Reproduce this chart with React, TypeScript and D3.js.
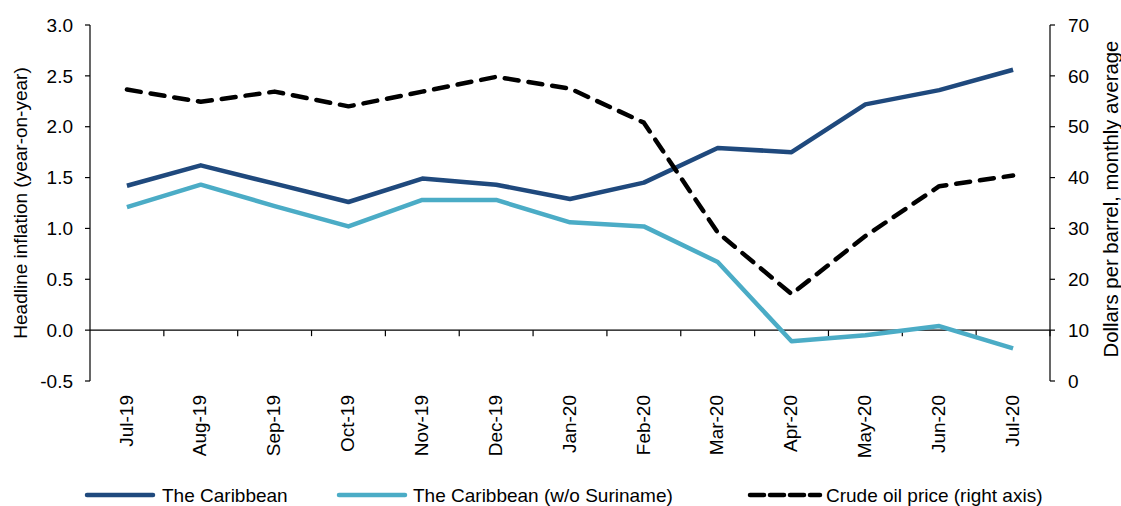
import * as d3 from "d3";

const months = ["Jul-19", "Aug-19", "Sep-19", "Oct-19", "Nov-19", "Dec-19", "Jan-20", "Feb-20", "Mar-20", "Apr-20", "May-20", "Jun-20", "Jul-20"];
const caribbean = [1.42, 1.62, 1.44, 1.26, 1.49, 1.43, 1.29, 1.45, 1.79, 1.75, 2.22, 2.36, 2.56];
const caribbeanExSur = [1.21, 1.43, 1.22, 1.02, 1.28, 1.28, 1.06, 1.02, 0.67, -0.11, -0.05, 0.04, -0.18];
const oilPrice = [57.3, 54.9, 56.9, 54.0, 56.9, 59.8, 57.5, 50.8, 29.2, 17.1, 28.5, 38.3, 40.4];
const leftTicks = [-0.5, 0, 0.5, 1, 1.5, 2, 2.5, 3];
const rightTicks = [0, 10, 20, 30, 40, 50, 60, 70];

const W = 1121;
const H = 506;
const marginLeft = 90;
const marginRight = 1050;
const marginTop = 25;
const chartBottomY = 381;
const font = "'Liberation Sans', Arial, sans-serif";
const darkBlue = "#1F497D";
const lightBlue = "#4BACC6";
const fs = 19;

const App = () => {
  const xScale = d3.scaleBand().domain(months).range([marginLeft, marginRight]);
  const xc = (m: string) => (xScale(m) ?? 0) + xScale.bandwidth() / 2;
  const yLeft = d3.scaleLinear().domain([-0.5, 3]).range([chartBottomY, marginTop]);
  const yRight = d3.scaleLinear().domain([0, 70]).range([chartBottomY, marginTop]);

  const lineLeft = d3
    .line<number>()
    .x((_, i) => xc(months[i]))
    .y((d) => yLeft(d));
  const lineRight = d3
    .line<number>()
    .x((_, i) => xc(months[i]))
    .y((d) => yRight(d));

  const zeroY = yLeft(0);
  const legendY = 495;

  return (
    <svg width={W} height={H} style={{ position: "absolute", left: 0, top: 0, fontFamily: font }}>
      <rect width={W} height={H} fill="white" />

      {/* left axis */}
      <line x1={marginLeft} x2={marginLeft} y1={marginTop} y2={chartBottomY} stroke="#000" strokeWidth={1.2} />
      {leftTicks.map((t) => (
        <g key={t}>
          <line x1={marginLeft - 5} x2={marginLeft} y1={yLeft(t)} y2={yLeft(t)} stroke="#000" strokeWidth={1.2} />
          <text x={73} y={yLeft(t)} dy="0.35em" textAnchor="end" fontSize={fs} fill="#000">
            {t.toFixed(1)}
          </text>
        </g>
      ))}
      <text
        transform={`translate(27,${(marginTop + chartBottomY) / 2}) rotate(-90)`}
        textAnchor="middle"
        fontSize={fs}
        fill="#000"
      >
        Headline inflation (year-on-year)
      </text>

      {/* right axis */}
      <line x1={marginRight} x2={marginRight} y1={marginTop} y2={chartBottomY} stroke="#000" strokeWidth={1.2} />
      {rightTicks.map((t) => (
        <g key={t}>
          <line x1={marginRight} x2={marginRight + 5} y1={yRight(t)} y2={yRight(t)} stroke="#000" strokeWidth={1.2} />
          <text x={1068} y={yRight(t)} dy="0.35em" textAnchor="start" fontSize={fs} fill="#000">
            {t}
          </text>
        </g>
      ))}
      <text
        transform={`translate(1118,199) rotate(-90)`}
        textAnchor="middle"
        fontSize={20.3}
        fill="#000"
      >
        Dollars per barrel, monthly average
      </text>

      {/* category axis at zero */}
      <line x1={marginLeft} x2={marginRight} y1={zeroY} y2={zeroY} stroke="#000" strokeWidth={1.2} />
      {months.map((m) => (
        <line
          key={m}
          x1={(xScale(m) ?? 0) + xScale.bandwidth()}
          x2={(xScale(m) ?? 0) + xScale.bandwidth()}
          y1={zeroY}
          y2={zeroY + 6}
          stroke="#000"
          strokeWidth={1.2}
        />
      ))}
      {months.map((m) => (
        <text
          key={m}
          transform={`translate(${xc(m) - 1},395) rotate(-90)`}
          dy="0.35em"
          textAnchor="end"
          fontSize={fs}
          fill="#000"
        >
          {m}
        </text>
      ))}

      {/* series */}
      <path d={lineLeft(caribbeanExSur) ?? ""} fill="none" stroke={lightBlue} strokeWidth={4.5} strokeLinejoin="round" />
      <path d={lineLeft(caribbean) ?? ""} fill="none" stroke={darkBlue} strokeWidth={4.5} strokeLinejoin="round" />
      <path
        d={lineRight(oilPrice) ?? ""}
        fill="none"
        stroke="#000"
        strokeWidth={4.5}
        strokeDasharray="14 10"
        strokeLinecap="round"
        strokeLinejoin="round"
      />

      {/* legend */}
      <line x1={87} x2={153} y1={legendY} y2={legendY} stroke={darkBlue} strokeWidth={4.5} strokeLinecap="round" />
      <text x={162} y={legendY} dy="0.35em" fontSize={fs} fill="#000">
        The Caribbean
      </text>
      <line x1={339} x2={405} y1={legendY} y2={legendY} stroke={lightBlue} strokeWidth={4.5} strokeLinecap="round" />
      <text x={413} y={legendY} dy="0.35em" fontSize={fs} fill="#000">
        The Caribbean (w/o Suriname)
      </text>
      <line
        x1={750}
        x2={820}
        y1={legendY}
        y2={legendY}
        stroke="#000"
        strokeWidth={4.5}
        strokeDasharray="14 6"
        strokeLinecap="round"
      />
      <text x={826} y={legendY} dy="0.35em" fontSize={fs} fill="#000">
        Crude oil price (right axis)
      </text>
    </svg>
  );
};

export default App;
